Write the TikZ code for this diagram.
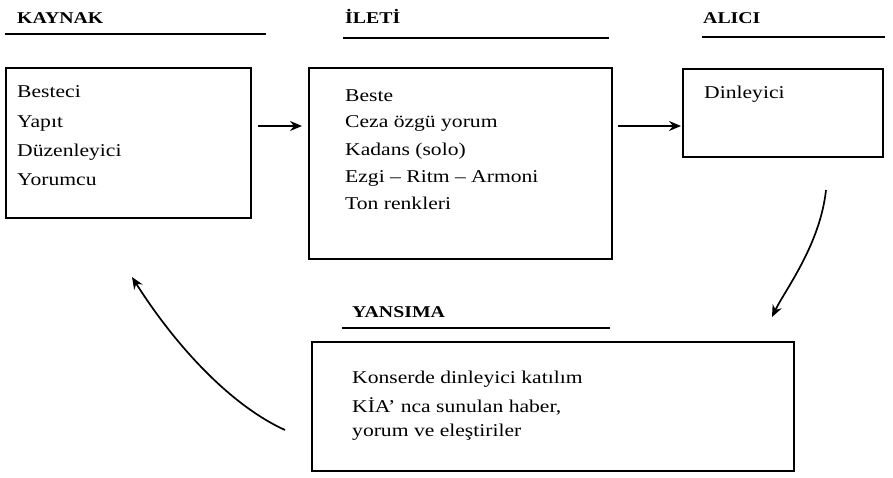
\documentclass[tikz,border=0pt]{standalone}
\usepackage{fontspec}
\setmainfont{Liberation Serif}[FakeStretch=1.2]
\usetikzlibrary{arrows.meta}
\begin{document}
\begin{tikzpicture}[x=1pt,y=-1pt,
  box/.style={draw,line width=1.5pt,minimum width=#1,inner sep=0pt},
  txt/.style={anchor=base west,inner sep=0pt,font=\fontsize{18}{21}\selectfont},
  head/.style={anchor=base west,inner sep=0pt,font=\fontsize{16.5}{20}\selectfont\bfseries},
  rule/.style={line width=1.5pt},
  flow/.style={line width=1.7pt,-{Stealth[length=12pt,width=10pt,inset=4pt]}}
]
\useasboundingbox (0,0) rectangle (893,477);
% headings
\node[head] (hK) at (17,23) {KAYNAK};
\node[head] (hI) at (345,23) {İLETİ};
\node[head] (hA) at (703,23) {ALICI};
\node[head] (hY) at (352,317) {YANSIMA};
\coordinate (uK1) at (5,34);   \coordinate (uK2) at (266,34);
\coordinate (uI1) at (343,38); \coordinate (uI2) at (609,38);
\coordinate (uA1) at (702,37); \coordinate (uA2) at (885,37);
\coordinate (uY1) at (342,328);\coordinate (uY2) at (610,328);
\draw[rule] (uK1) -- (uK2);
\draw[rule] (uI1) -- (uI2);
\draw[rule] (uA1) -- (uA2);
\draw[rule] (uY1) -- (uY2);
% boxes
\node[box=245pt,minimum height=150pt] (kaynak) at (128.5,143) {};
\node[box=303pt,minimum height=191pt] (ileti) at (460.5,163.5) {};
\node[box=200pt,minimum height=88pt] (alici) at (783,113) {};
\node[box=482pt,minimum height=129pt] (yansima) at (553,406.5) {};
% texts
\node[txt] (k1) at (17,97) {Besteci};
\node[txt] (k2) at (17,127) {Yapıt};
\node[txt] (k3) at (17,156) {Düzenleyici};
\node[txt] (k4) at (17,185) {Yorumcu};
\node[txt] (i1) at (345,101) {Beste};
\node[txt] (i2) at (345,127) {Ceza özgü yorum};
\node[txt] (i3) at (345,155) {Kadans (solo)};
\node[txt] (i4) at (345,182) {Ezgi -- Ritm -- Armoni};
\node[txt] (i5) at (345,209) {Ton renkleri};
\node[txt] (a1) at (704,98) {Dinleyici};
\node[txt] (y1) at (352,383) {Konserde dinleyici katılım};
\node[txt] (y2) at (352,412) {KİA’ nca sunulan haber,};
\node[txt] (y3) at (352,436) {yorum ve eleştiriler};
% arrows
\coordinate (a1s) at (258,126);
\coordinate (a1e) at (302,126);
\draw[flow] (a1s) -- (a1e);
\coordinate (a2s) at (618,126);
\coordinate (a2e) at (681,126);
\draw[flow] (a2s) -- (a2e);
\coordinate (c3s) at (826,190);
\coordinate (c3e) at (772,317);
\draw[flow] (c3s) .. controls (820,245) and (785,290) .. (c3e);
\coordinate (c4s) at (285,430);
\coordinate (c4e) at (132,277);
\draw[flow] (c4s) .. controls (230,405) and (175,345) .. (c4e);
\end{tikzpicture}
\end{document}
